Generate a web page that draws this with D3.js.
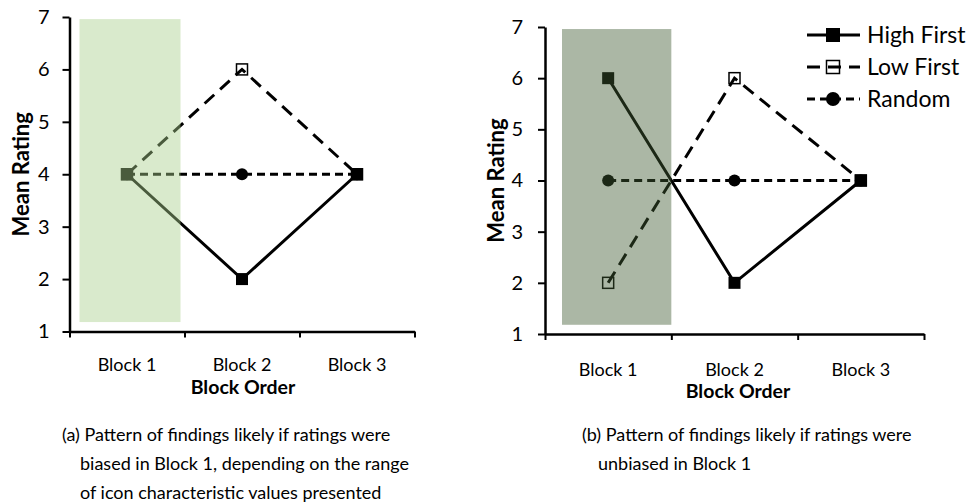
<!DOCTYPE html>
<html>
<head>
<meta charset="utf-8">
<script src="https://cdn.jsdelivr.net/npm/d3@7"></script>
<style>
  body { margin: 0; background: #fff; }
  svg { display: block; font-family: Lato, "Open Sans", sans-serif; }
</style>
</head>
<body>
<div id="chart"></div>
<script>
// categories and ticks
var blocks = ['Block 1', 'Block 2', 'Block 3'];
var yTicks = [1, 2, 3, 4, 5, 6, 7];
var seriesNames = ['High First', 'Low First', 'Random'];

// (a) biased in block 1
var biasedHigh = [4, 2, 4];
var biasedLow = [4, 6, 4];
var biasedRandom = [4, 4, 4];

// (b) unbiased in block 1
var unbiasedHigh = [6, 2, 4];
var unbiasedLow = [2, 6, 4];
var unbiasedRandom = [4, 4, 4];

// captions
var captionA = [
    '(a) Pattern of findings likely if ratings were',
    'biased in Block 1, depending on the range',
    'of icon characteristic values presented'
];
var captionB = [
    '(b) Pattern of findings likely if ratings were',
    'unbiased in Block 1'
];

var svgWidth = 969;
var svgHeight = 504;

var svg = d3.select('#chart')
    .append('svg')
    .attr('width', svgWidth)
    .attr('height', svgHeight);

// line / marker style per series
var styles = {
    'High First': { dash: null, marker: 'filled' },
    'Low First': { dash: '13,8', marker: 'open' },
    'Random': { dash: '8,5', marker: 'circle' }
};

// s = marker size in px
function drawMarker(g, kind, x, y, s) {
    if (kind === 'filled') {
        g.append('rect').attr('x', x - s / 2).attr('y', y - s / 2)
            .attr('width', s).attr('height', s).attr('fill', '#000');
    } else if (kind === 'open') {
        var o = s - 1;
        g.append('rect').attr('x', x - o / 2).attr('y', y - o / 2)
            .attr('width', o).attr('height', o)
            .attr('fill', '#fff').attr('stroke', '#000').attr('stroke-width', 1.5);
    } else {
        g.append('circle').attr('cx', x).attr('cy', y).attr('r', s / 2).attr('fill', '#000');
    }
}

function drawPanel(cfg) {
    var g = svg.append('g');

    var x = d3.scaleBand().domain(blocks).range([cfg.left, cfg.right]);
    var xEdges = d3.scaleLinear().domain([0, blocks.length]).range([cfg.left, cfg.right]);
    var y = d3.scaleLinear().domain([1, 7]).range([cfg.bottom, cfg.top]);

    // y axis
    g.append('g')
        .attr('transform', `translate(${cfg.left}, 0)`)
        .call(d3.axisLeft(y).tickValues(yTicks).tickFormat(d3.format('d'))
            .tickSize(7).tickSizeOuter(0).tickPadding(cfg.yPad))
        .call(a => a.select('.domain').attr('stroke-width', 2.5))
        .call(a => a.selectAll('.tick line').attr('stroke-width', 2))
        .call(a => a.selectAll('text').attr('font-size', 20).attr('fill', '#000')
            .attr('font-family', 'Lato'));

    // x axis (ticks on block edges)
    g.append('g')
        .attr('transform', `translate(0, ${cfg.bottom})`)
        .call(d3.axisBottom(xEdges).tickValues([0, 1, 2, 3]).tickFormat('').tickSize(6).tickSizeOuter(0))
        .call(a => a.select('.domain').attr('stroke-width', 2.5))
        .call(a => a.selectAll('.tick line').attr('stroke-width', 2));

    // block labels
    g.append('g')
        .attr('transform', `translate(0, ${cfg.bottom})`)
        .call(d3.axisBottom(x).tickSize(0).tickPadding(cfg.xPad))
        .call(a => a.select('.domain').remove())
        .call(a => a.selectAll('text').attr('font-size', 18).attr('fill', '#000')
            .attr('font-family', 'Lato'));

    // axis titles
    g.append('text')
        .attr('x', cfg.xTitleX).attr('y', cfg.xTitleY)
        .attr('text-anchor', 'middle')
        .attr('font-size', 19.5).attr('font-weight', 'bold')
        .text('Block Order');

    g.append('text')
        .attr('transform', `translate(${cfg.yTitleX}, ${(cfg.top + cfg.bottom) / 2}) rotate(-90)`)
        .attr('text-anchor', 'middle')
        .attr('font-size', 22).attr('font-weight', 'bold')
        .text('Mean Rating');

    // series
    var cx = d => x(d) + x.bandwidth() / 2;
    var line = d3.line().x((d, i) => cx(blocks[i])).y(d => y(d));
    var order = ['Random', 'Low First', 'High First'];
    order.forEach(name => {
        var vals = cfg.series[name];
        var st = styles[name];
        var sg = g.append('g');
        var path = function () {
            sg.append('path').datum(vals)
                .attr('d', line)
                .attr('fill', 'none').attr('stroke', '#000').attr('stroke-width', 3)
                .attr('stroke-dasharray', st.dash);
        };
        if (name !== 'Low First') path();
        vals.forEach((v, i) => drawMarker(sg, st.marker, cx(blocks[i]), y(v), 12));
        if (name === 'Low First') path();
    });

    // shaded block 1 overlay
    g.append('rect')
        .attr('x', x(blocks[0]) + cfg.shadeL)
        .attr('y', y(6.96))
        .attr('width', x.bandwidth() - cfg.shadeL - cfg.shadeR)
        .attr('height', y(1.18) - y(6.96))
        .attr('fill', cfg.shadeColor)
        .attr('opacity', 0.44);

    // caption
    var cap = g.append('text').attr('font-size', 18).attr('fill', '#000');
    cfg.caption.forEach((t, i) => {
        cap.append('tspan')
            .attr('x', i === 0 ? cfg.capX : cfg.capX + cfg.capIndent)
            .attr('y', cfg.capY + i * 29)
            .text(t);
    });

    return { x: x, y: y };
}

drawPanel({
    left: 69.5, right: 414.5, top: 17, bottom: 331.5,
    yPad: 13, xPad: 27,
    xTitleX: 243, xTitleY: 394, yTitleX: 29,
    shadeL: 10, shadeR: 4, shadeColor: '#a9cf8a',
    series: { 'High First': biasedHigh, 'Low First': biasedLow, 'Random': biasedRandom },
    caption: captionA, capX: 62, capY: 441, capIndent: 18
});

drawPanel({
    left: 545, right: 924, top: 27, bottom: 334,
    yPad: 15, xPad: 29,
    xTitleX: 738, xTitleY: 398, yTitleX: 504,
    shadeL: 17, shadeR: 0, shadeColor: '#405a32',
    series: { 'High First': unbiasedHigh, 'Low First': unbiasedLow, 'Random': unbiasedRandom },
    caption: captionB, capX: 582, capY: 441, capIndent: 16
});

// legend
var legend = svg.append('g').attr('transform', 'translate(807, 35)');
seriesNames.forEach((name, i) => {
    var st = styles[name];
    var row = legend.append('g').attr('transform', `translate(0, ${i * 32})`);
    var seg = function () {
        row.append('line').attr('x1', 0).attr('x2', 53).attr('y1', 0).attr('y2', 0)
            .attr('stroke', '#000').attr('stroke-width', 3)
            .attr('stroke-dasharray', st.dash);
    };
    if (name !== 'Low First') seg();
    drawMarker(row, st.marker, 26, 0, 14);
    if (name === 'Low First') seg();
    row.append('text')
        .attr('x', 60).attr('y', 0)
        .attr('dy', '0.35em')
        .attr('font-size', 23)
        .text(name);
});
</script>
</body>
</html>
